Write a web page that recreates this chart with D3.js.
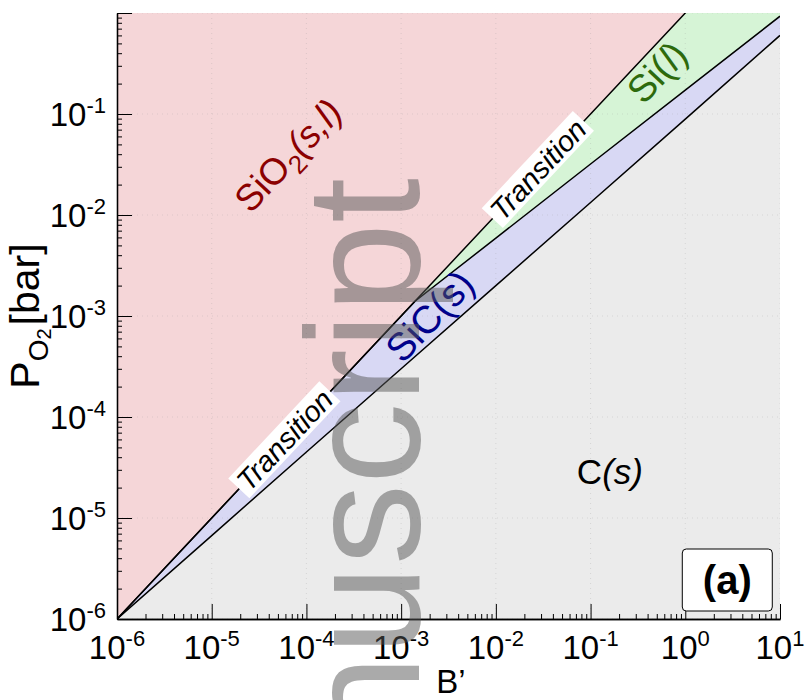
<!DOCTYPE html>
<html lang="en">
<head>
<meta charset="UTF-8">
<title>Stability diagram</title>
<script src="https://d3js.org/d3.v7.min.js"></script>
<style>
  body { margin: 0; background: white; }
  svg text { font-family: "Liberation Sans", Arial, Helvetica, sans-serif; }
</style>
</head>
<body>
<div id="chart"></div>
<script>
// phase boundaries, B' vs P_O2 [bar]
const bUpper = [1e-6, 1e-5, 1e-4, 1e-3, 1e-2, 1e-1, 1, 10]
const pUpper = [1e-6, 1e-5, 1e-4, 1e-3, 1e-2, 1e-1, 1, 10]
const bSiC = [1e-6, 1.4e-3, 1e-2, 1e-1, 1, 10]
const pSiC = [1e-6, 1.4e-3, 5.9e-3, 3.2e-2, 0.172, 0.93]
const bC = [1e-6, 1e-5, 1e-4, 1e-3, 1e-2, 1e-1, 1, 10]
const pC = [1e-6, 6.7e-6, 4.5e-5, 3.0e-4, 2.0e-3, 1.33e-2, 8.9e-2, 0.6]

// tick exponents
const xExp = [-6, -5, -4, -3, -2, -1, 0, 1]
const yExp = [-6, -5, -4, -3, -2, -1, 0]
const yLabelExp = [-6, -5, -4, -3, -2, -1]

// region labels (position in data coords)
const regionNames = ["SiO2", "Si", "SiC", "C"]
const regionB = [6.4e-5, 0.5, 2.0e-3, 0.16]
const regionP = [3.9e-2, 0.26, 1.0e-3, 2.85e-5]
const transitionB = [5.9e-5, 2.8e-2]

const width = 807
const height = 700

const x = d3.scaleLog().domain([1e-6, 10]).range([117, 780])
const y = d3.scaleLog().domain([1e-6, 1]).range([619, 13])

const svg = d3.select("#chart").append("svg")
    .attr("width", width)
    .attr("height", height)

svg.append("clipPath").attr("id", "plot-clip").append("rect")
    .attr("x", x.range()[0]).attr("y", y.range()[1])
    .attr("width", x.range()[1] - x.range()[0])
    .attr("height", y.range()[0] - y.range()[1])

const plot = svg.append("g").attr("clip-path", "url(#plot-clip)")

const pts = (bs, ps) => bs.map((b, i) => [b, ps[i]])
const area = d3.area().x(d => x(d[0])).y0(y.range()[0]).y1(d => y(d[1]))
const line = d3.line().x(d => x(d[0])).y(d => y(d[1]))

// SiO2 background
plot.append("rect")
    .attr("x", x.range()[0]).attr("y", y.range()[1])
    .attr("width", x.range()[1] - x.range()[0])
    .attr("height", y.range()[0] - y.range()[1])
    .attr("fill", "#f5d6d8")

plot.append("path").datum(pts(bUpper, pUpper)).attr("d", area).attr("fill", "#d6f4d6")
plot.append("path").datum(pts(bSiC, pSiC)).attr("d", area).attr("fill", "#d8d8f4")
plot.append("path").datum(pts(bC, pC)).attr("d", area).attr("fill", "#ebebeb")

// dotted grid
const grid = plot.append("g").attr("stroke", "#999").attr("stroke-opacity", 0.25)
    .attr("stroke-dasharray", "1,4")
grid.selectAll("line.gx").data(xExp).join("line").attr("class", "gx")
    .attr("x1", e => x(10 ** e)).attr("x2", e => x(10 ** e))
    .attr("y1", y.range()[0]).attr("y2", y.range()[1])
grid.selectAll("line.gy").data(yExp).join("line").attr("class", "gy")
    .attr("y1", e => y(10 ** e)).attr("y2", e => y(10 ** e))
    .attr("x1", x.range()[0]).attr("x2", x.range()[1])

// boundaries
;[pts(bUpper, pUpper), pts(bSiC, pSiC), pts(bC, pC)].forEach(d => {
    plot.append("path").datum(d).attr("d", line)
        .attr("fill", "none").attr("stroke", "black").attr("stroke-width", 1.5)
})

// angle of the SiO2 boundary on screen
const angle = Math.atan2(y(1e-6) - y(1), x(1) - x(1e-6)) * 180 / Math.PI

// transition labels
transitionB.forEach(b => {
    const g = plot.append("g")
        .attr("transform", `translate(${x(b)},${y(b)}) rotate(${-angle})`)
    const rect = g.append("rect").attr("fill", "white")
    const t = g.append("text")
        .attr("text-anchor", "middle")
        .attr("y", 10)
        .style("font-size", "29px")
        .style("font-style", "italic")
        .text("Transition")
    const len = t.node().getComputedTextLength()
    rect.attr("x", -len / 2 - 4).attr("y", -15).attr("width", len + 8).attr("height", 29)
})

// region labels
const labelColor = {SiO2: "#8b0000", Si: "#2d6a0c", SiC: "#00008b", C: "black"}
const labelSize = {SiO2: 37, Si: 38, SiC: 39, C: 35}
regionNames.forEach((name, i) => {
    const rot = name == "C" ? 0 : -angle
    const t = plot.append("text")
        .attr("transform", `translate(${x(regionB[i])},${y(regionP[i])}) rotate(${rot})`)
        .attr("text-anchor", "middle")
        .attr("dy", "0.35em")
        .attr("fill", labelColor[name])
        .style("font-size", labelSize[name] + "px")
    if (name == "SiO2") {
        t.append("tspan").text("SiO")
        t.append("tspan").attr("dy", 9).style("font-size", "26px").text("2")
        t.append("tspan").attr("dy", -9).style("font-style", "italic").text("(s,l)")
    } else if (name == "Si") {
        t.append("tspan").text("Si(")
        t.append("tspan").style("font-style", "italic").text("l")
        t.append("tspan").text(")")
    } else if (name == "SiC") {
        t.append("tspan").text("SiC(s)")
    } else {
        t.append("tspan").text("C")
        t.append("tspan").style("font-style", "italic").text("(s)")
    }
})

// axes (ticks point inward)
const xMinor = [], yMinor = []
xExp.slice(0, -1).forEach(e => d3.range(2, 10).forEach(m => xMinor.push(m * 10 ** e)))
yExp.slice(0, -1).forEach(e => d3.range(2, 10).forEach(m => yMinor.push(m * 10 ** e)))

const xAxisG = svg.append("g").attr("transform", `translate(0,${y.range()[0]})`)
xAxisG.append("g").call(d3.axisBottom(x).tickValues(xMinor).tickSize(-5).tickSizeOuter(0).tickFormat(""))
xAxisG.append("g").call(d3.axisBottom(x).tickValues(xExp.map(e => 10 ** e)).tickSize(-15).tickSizeOuter(0).tickFormat(""))

const yAxisG = svg.append("g").attr("transform", `translate(${x.range()[0]},0)`)
yAxisG.append("g").call(d3.axisLeft(y).tickValues(yMinor).tickSize(-5).tickSizeOuter(0).tickFormat(""))
yAxisG.append("g").call(d3.axisLeft(y).tickValues(yExp.map(e => 10 ** e)).tickSize(-15).tickSizeOuter(0).tickFormat(""))

svg.selectAll(".domain").attr("stroke", "black").attr("stroke-width", 1.3)
svg.selectAll(".tick line").attr("stroke", "black")

// tick labels with superscript exponents
svg.append("g").selectAll("text").data(xExp).join("text")
    .attr("x", e => x(10 ** e))
    .attr("y", 659)
    .attr("text-anchor", "middle")
    .style("font-size", "33px")
    .each(function(e) {
        const t = d3.select(this)
        t.append("tspan").text("10")
        t.append("tspan").attr("dy", -13).style("font-size", "22px").text(e)
    })

svg.append("g").selectAll("text").data(yLabelExp).join("text")
    .attr("x", 106)
    .attr("y", e => y(10 ** e) + 12)
    .attr("text-anchor", "end")
    .style("font-size", "33px")
    .each(function(e) {
        const t = d3.select(this)
        t.append("tspan").text("10")
        t.append("tspan").attr("dy", -13).style("font-size", "22px").text(e)
    })

// axis titles
svg.append("text")
    .attr("x", 451).attr("y", 693)
    .attr("text-anchor", "middle")
    .style("font-size", "33px")
    .text("B\u2019")

const yTitle = svg.append("text")
    .attr("transform", "translate(39,316) rotate(-90)")
    .attr("text-anchor", "middle")
    .style("font-size", "41px")
yTitle.append("tspan").text("P")
yTitle.append("tspan").attr("dy", 9).style("font-size", "28px").text("O")
yTitle.append("tspan").attr("dy", 3).style("font-size", "20px").text("2")
yTitle.append("tspan").attr("dy", -12).attr("dx", 3).text("[bar]")

// panel tag
svg.append("rect")
    .attr("x", x(1) - 3).attr("y", 549)
    .attr("width", 90).attr("height", 62).attr("rx", 4)
    .attr("fill", "white").attr("stroke", "black").attr("stroke-width", 1)
svg.append("text")
    .attr("x", x(1) + 42).attr("y", 594)
    .attr("text-anchor", "middle")
    .style("font-size", "40px").style("font-weight", "bold")
    .text("(a)")

// watermark (runs off the bottom edge, as in the source)
svg.append("text")
    .attr("transform", "translate(419,178) rotate(-90)")
    .attr("text-anchor", "end")
    .attr("fill", "#555").attr("fill-opacity", 0.5)
    .style("font-size", "162px")
    .text("Manuscript")
</script>
</body>
</html>
